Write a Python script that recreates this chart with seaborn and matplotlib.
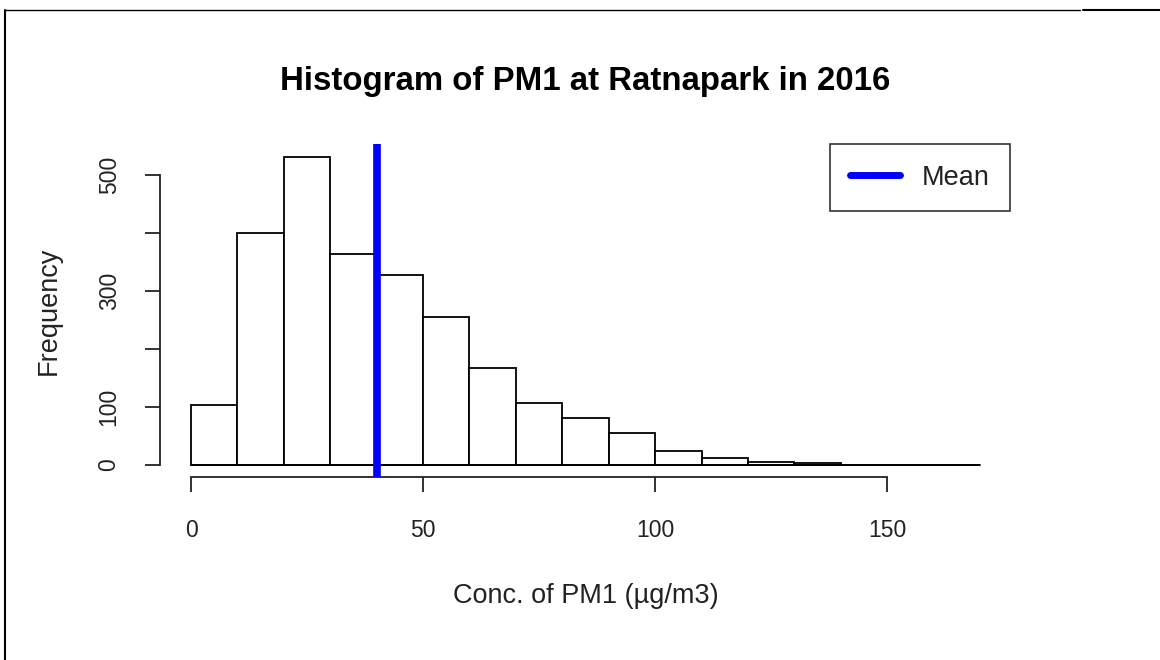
import numpy as np
import pandas as pd
import matplotlib
matplotlib.use("Agg")
import matplotlib.pyplot as plt
from matplotlib.lines import Line2D
import seaborn as sns

# ---- data ----
bin_edges = [0, 10, 20, 30, 40, 50, 60, 70, 80, 90, 100, 110, 120, 130, 140, 150, 160, 170]
counts = [103, 400, 531, 363, 327, 255, 166, 107, 81, 54, 23, 12, 5, 3, 0, 0, 0]
mean_value = 40.1
x_ticks = [0, 50, 100, 150]
y_ticks = [0, 100, 200, 300, 400, 500]
y_ticklabels = ["0", "100", "", "300", "", "500"]
title = "Histogram of PM1 at Ratnapark in 2016"
x_label = "Conc. of PM1 (\u00b5g/m3)"
y_label = "Frequency"

sns.set_style("white")
plt.rcParams["font.family"] = ["Liberation Sans", "DejaVu Sans"]

centers = [(a + b) / 2 for a, b in zip(bin_edges[:-1], bin_edges[1:])]
df = pd.DataFrame({"conc": centers, "n": counts})

fig = plt.figure(figsize=(11.6, 6.6), dpi=100)
ax = fig.add_axes([0.1375, 0.2773, 0.7345, 0.5041])

sns.histplot(data=df, x="conc", weights="n", bins=bin_edges, ax=ax,
             color="white", edgecolor="black", linewidth=1.3, alpha=1)

ax.axvline(mean_value, color="#0000ff", linewidth=5.5, zorder=5)

ax.set_xlim(-6.8, 176.8)
ax.set_ylim(-21.24, 552.24)

for s in ["top", "right"]:
    ax.spines[s].set_visible(False)
ax.spines["left"].set_bounds(0, 500)
ax.spines["bottom"].set_bounds(0, 150)
ax.spines["left"].set_color("#222222")
ax.spines["bottom"].set_color("#222222")
ax.spines["left"].set_linewidth(1.3)
ax.spines["bottom"].set_linewidth(1.3)

# baseline like R's hist drawing
ax.plot([bin_edges[0], bin_edges[-1]], [0, 0], color="black", linewidth=1.3, zorder=4)

ax.set_xticks(x_ticks)
ax.set_xticklabels([str(t) for t in x_ticks])
ax.set_yticks(y_ticks)
ax.set_yticklabels(y_ticklabels, rotation=90, va="center")
ax.tick_params(axis="both", direction="out", length=11, width=1.3, color="#222222",
               labelsize=16.5, labelcolor="#222222", left=True, bottom=True)
ax.tick_params(axis="y", pad=17)
ax.tick_params(axis="x", pad=19)

ax.set_xlabel(x_label, fontsize=19.5, color="#222222", labelpad=30)
ax.set_ylabel(y_label, fontsize=19.5, color="#222222", labelpad=26)
ax.set_title(title, fontsize=23.8, fontweight="bold", color="black", pad=39)

handles = [Line2D([0], [0], color="#0000ff", linewidth=5)]
leg = ax.legend(handles, ["Mean"], loc="upper right", bbox_to_anchor=(0.998, 1.0),
                fontsize=19.5, frameon=True, fancybox=False, borderaxespad=0,
                handlelength=1.85, handletextpad=0.8, borderpad=0.75, labelcolor="#222222")
leg.get_frame().set_edgecolor("black")
leg.get_frame().set_linewidth(1.2)

# document border lines from the source page
fig.add_artist(Line2D([5 / 1160, 5 / 1160], [0, 1 - 10 / 660], transform=fig.transFigure, color="black", linewidth=1.5))
fig.add_artist(Line2D([5 / 1160, 1080 / 1160], [1 - 10 / 660, 1 - 10 / 660], transform=fig.transFigure, color="black", linewidth=1.0))
fig.add_artist(Line2D([1083 / 1160, 1], [1 - 10 / 660, 1 - 10 / 660], transform=fig.transFigure, color="black", linewidth=1.5))

fig.savefig("out.png", dpi=100)
